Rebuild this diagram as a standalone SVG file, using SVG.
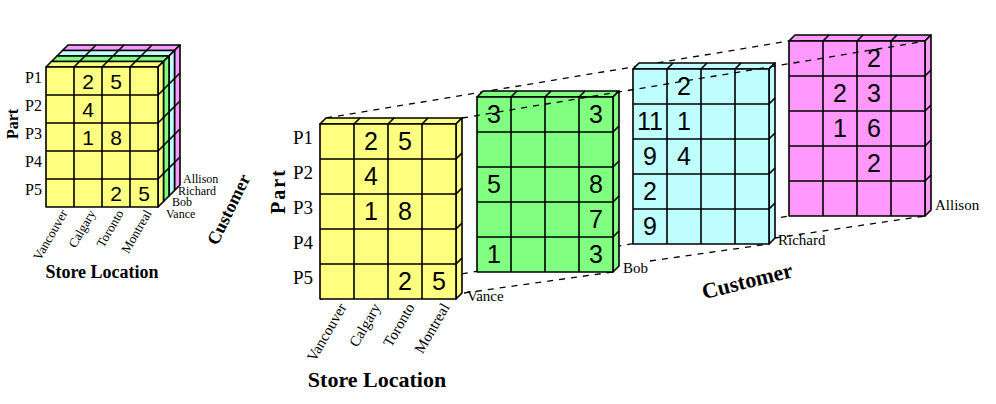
<svg xmlns="http://www.w3.org/2000/svg" xmlns:xlink="http://www.w3.org/1999/xlink" width="996" height="404" viewBox="0 0 996 404">
<style>
.slab{stroke:#000;stroke-width:1.6;stroke-linejoin:round}
.y{fill:#FFFF80}.g{fill:#80FF80}.c{fill:#C0FFFF}.p{fill:#FF99FF}
.num{font-family:"Liberation Sans",Arial,sans-serif;font-size:25px;text-anchor:middle;fill:#000}
.snum{font-family:"Liberation Sans",Arial,sans-serif;font-size:21px;text-anchor:middle;fill:#000}
.serif{font-family:"Liberation Serif","Times New Roman",serif;fill:#000}
.pl{font-size:19px;text-anchor:end}
.spl{font-size:16px;text-anchor:end}
.col{font-size:15px;text-anchor:end}
.scol{font-size:13px;text-anchor:end}
.side{font-size:15px}
.sside{font-size:12px}
.bold{font-weight:bold}
.dash{fill:none;stroke:#000;stroke-width:1.3;stroke-dasharray:6 6}
</style>
<defs>
<g id="sl">
<polygon points="0,0 112,0 117.5,-5.5 5.5,-5.5"/>
<polygon points="112,0 117.5,-5.5 117.5,134.5 112,140"/>
<path fill="none" d="M28,0l5.5,-5.5M56,0l5.5,-5.5M84,0l5.5,-5.5M112,28l5.5,-5.5M112,56l5.5,-5.5M112,84l5.5,-5.5M112,112l5.5,-5.5"/>
</g>
<g id="bs">
<polygon points="0,0 136,0 142,-6 6,-6"/>
<polygon points="136,0 142,-6 142,169 136,175"/>
<rect width="136" height="175"/>
<path fill="none" d="M34,0V175M68,0V175M102,0V175M0,35H136M0,70H136M0,105H136M0,140H136M34,0l6,-6M68,0l6,-6M102,0l6,-6M136,35l6,-6M136,70l6,-6M136,105l6,-6M136,140l6,-6"/>
</g>
</defs>
<rect width="996" height="404" fill="#fff"/>

<!-- small cube -->
<g id="small-cube">
<use xlink:href="#sl" class="slab p" transform="translate(62.5,50.5)"/>
<use xlink:href="#sl" class="slab c" transform="translate(57,56)"/>
<use xlink:href="#sl" class="slab g" transform="translate(51.5,61.5)"/>
<use xlink:href="#sl" class="slab y" transform="translate(46,67)"/>
<rect x="46" y="67" width="112" height="140" class="slab y"/>
<path class="slab" fill="none" d="M74,67V207M102,67V207M130,67V207M46,95H158M46,123H158M46,151H158M46,179H158"/>
<text class="snum" x="88" y="89">2</text><text class="snum" x="116" y="89">5</text>
<text class="snum" x="88" y="117">4</text>
<text class="snum" x="88" y="145">1</text><text class="snum" x="116" y="145">8</text>
<text class="snum" x="116" y="201">2</text><text class="snum" x="144" y="201">5</text>
</g>
<g id="small-labels" class="serif">
<text class="spl" x="42" y="82.5">P1</text>
<text class="spl" x="42" y="110.5">P2</text>
<text class="spl" x="42" y="138.5">P3</text>
<text class="spl" x="42" y="166.5">P4</text>
<text class="spl" x="42" y="194.5">P5</text>
<text class="bold" font-size="16" text-anchor="middle" transform="translate(18,124) rotate(-90)">Part</text>
<text class="scol" transform="translate(68,213) rotate(-60)">Vancouver</text>
<text class="scol" transform="translate(96,213) rotate(-60)">Calgary</text>
<text class="scol" transform="translate(124,213) rotate(-60)">Toronto</text>
<text class="scol" transform="translate(152,213) rotate(-60)">Montreal</text>
<text class="bold" font-size="18" text-anchor="middle" x="102" y="278">Store Location</text>
<text class="sside" x="183" y="183">Allison</text>
<text class="sside" x="178" y="194.5">Richard</text>
<text class="sside" x="172" y="206">Bob</text>
<text class="sside" x="166" y="217.5">Vance</text>
<text class="bold" font-size="18" text-anchor="middle" transform="translate(234,212) rotate(-64)">Customer</text>
</g>

<!-- connectors behind -->
<g id="connectors-back" class="dash">
<path d="M326,118L789,41"/>
<path d="M320,299L789,216"/>
<path d="M464,293L613,272"/>
<path d="M650,261L769,244"/>
<path d="M775,238L925,216"/>
</g>

<g id="slab-allison">
<use xlink:href="#bs" class="slab p" transform="translate(789,41)"/>
<text class="num" x="874" y="67">2</text>
<text class="num" x="840" y="102">2</text><text class="num" x="874" y="102">3</text>
<text class="num" x="840" y="137">1</text><text class="num" x="874" y="137">6</text>
<text class="num" x="874" y="172">2</text>
<text class="serif side" x="935" y="210">Allison</text>
</g>
<g id="slab-richard">
<use xlink:href="#bs" class="slab c" transform="translate(633,69)"/>
<text class="num" x="684" y="95">2</text>
<text class="num" x="650" y="130">11</text><text class="num" x="684" y="130">1</text>
<text class="num" x="650" y="165">9</text><text class="num" x="684" y="165">4</text>
<text class="num" x="650" y="200">2</text>
<text class="num" x="650" y="235">9</text>
<text class="serif side" x="778" y="245">Richard</text>
</g>
<g id="slab-bob">
<use xlink:href="#bs" class="slab g" transform="translate(477,97)"/>
<text class="num" x="494" y="123">3</text><text class="num" x="596" y="123">3</text>
<text class="num" x="494" y="193">5</text><text class="num" x="596" y="193">8</text>
<text class="num" x="596" y="228">7</text>
<text class="num" x="494" y="263">1</text><text class="num" x="596" y="263">3</text>
<text class="serif side" x="623" y="273">Bob</text>
</g>
<g id="slab-vance">
<use xlink:href="#bs" class="slab y" transform="translate(320,124)"/>
<text class="num" x="371" y="150">2</text><text class="num" x="405" y="150">5</text>
<text class="num" x="371" y="185">4</text>
<text class="num" x="371" y="220">1</text><text class="num" x="405" y="220">8</text>
<text class="num" x="405" y="290">2</text><text class="num" x="439" y="290">5</text>
<text class="serif side" x="467" y="301">Vance</text>
</g>

<g id="big-labels" class="serif">
<text class="pl" x="313" y="143.5">P1</text>
<text class="pl" x="313" y="178.5">P2</text>
<text class="pl" x="313" y="213.5">P3</text>
<text class="pl" x="313" y="248.5">P4</text>
<text class="pl" x="313" y="283.5">P5</text>
<text class="bold" font-size="20" letter-spacing="2" text-anchor="middle" transform="translate(285,191) rotate(-90)">Part</text>
<text class="col" transform="translate(347,307) rotate(-60)">Vancouver</text>
<text class="col" transform="translate(381,307) rotate(-60)">Calgary</text>
<text class="col" transform="translate(415,307) rotate(-60)">Toronto</text>
<text class="col" transform="translate(450,307) rotate(-60)">Montreal</text>
<text class="bold" font-size="22" text-anchor="middle" x="377" y="387">Store Location</text>
<text class="bold" font-size="22" text-anchor="middle" transform="translate(749,288) rotate(-14)">Customer</text>
</g>

<!-- connector in front -->
<g id="connectors-front" class="dash">
<path d="M462,118L926,41"/>
</g>
</svg>
